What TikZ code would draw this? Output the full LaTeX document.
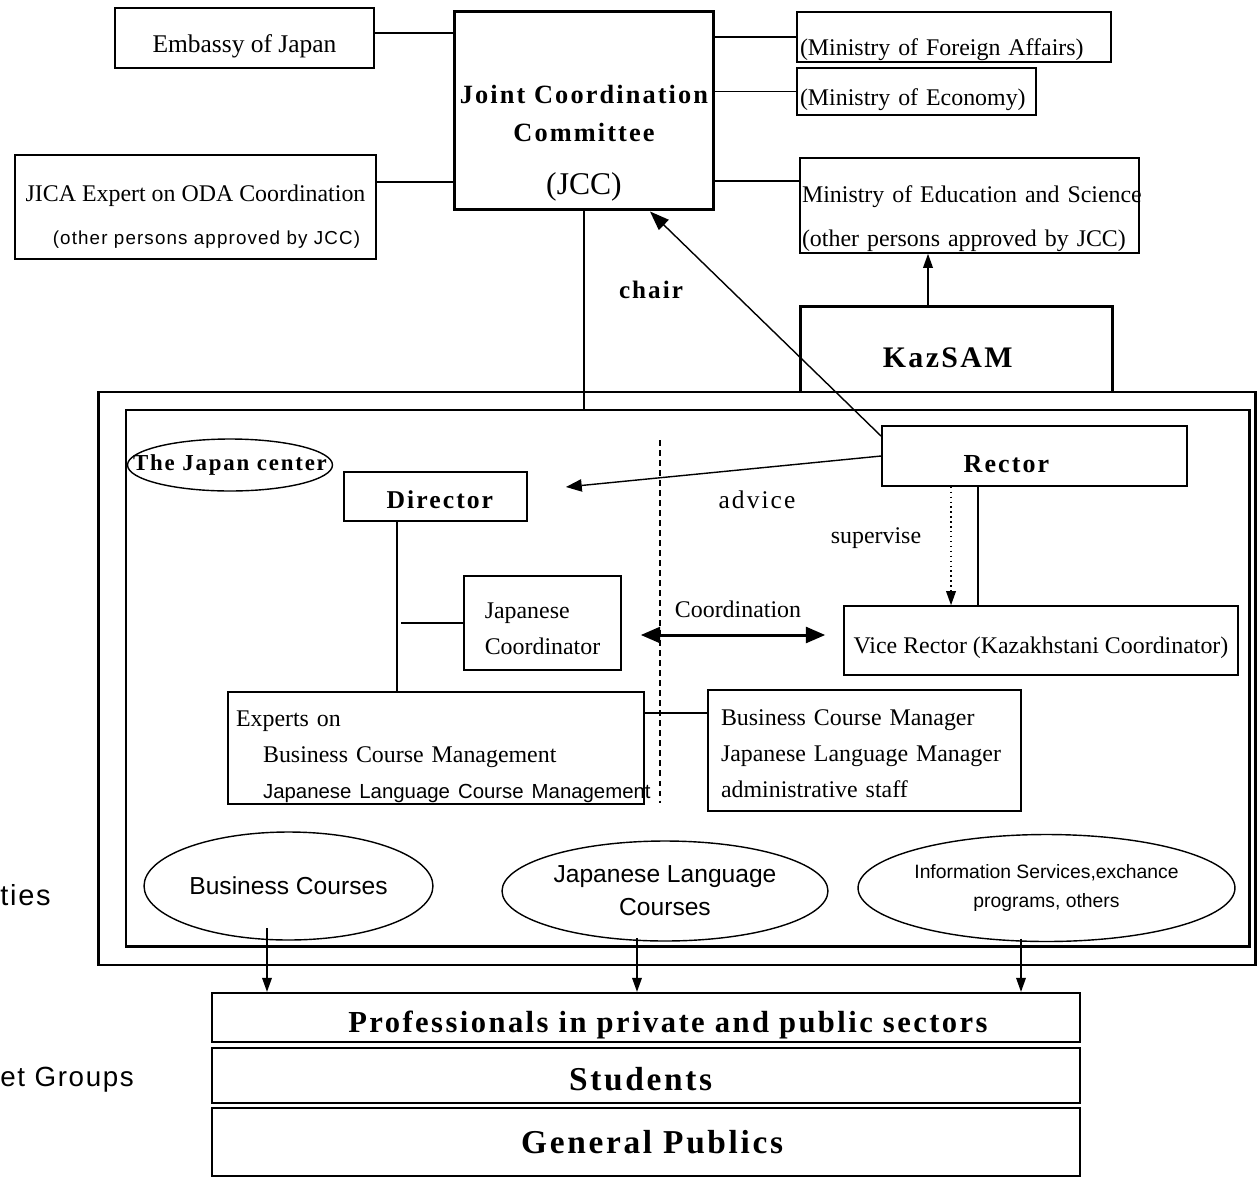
\documentclass[tikz,border=0pt]{standalone}
\usepackage{fontspec}
\setmainfont{Liberation Serif}
\setsansfont{Liberation Sans}
\newfontfamily\wideserif[LetterSpace=8]{Liberation Serif}
\newfontfamily\widesans[LetterSpace=6]{Liberation Sans}
\usepackage{tikz}
\usetikzlibrary{arrows.meta,shapes.geometric}
\newcommand{\bodyfont}{\fontsize{13.6}{20.5}\selectfont}
\tikzset{o-box/.style={rectangle, draw=black, line width=0.9pt, inner sep=0pt, font=\bodyfont},
o-box2/.style={o-box, line width=1.7pt},
o-oval/.style={ellipse, draw=black, line width=0.8pt, inner sep=0pt},
c-frame/.style={rectangle, draw=black, inner sep=0pt, outer sep=0pt},
link/.style={line width=0.8pt},
link2/.style={line width=1.3pt},
arrow/.style={line width=0.8pt,-{Triangle[length=8pt,width=5.5pt]}},
divider/.style={line width=0.8pt, dash pattern=on 3.4pt off 2.3pt}}

\begin{document}
\begin{tikzpicture}[x=0.02cm, y=-0.02cm]
\useasboundingbox (0,0) rectangle (1258,1177);
\node (activities) [c-frame, line width=1.6pt, minimum width=23.16cm, minimum height=11.46cm] at (677,678.5) {};
\node (jcframe) [c-frame, line width=0.8pt, minimum width=22.48cm, minimum height=10.74cm] at (688,678.5) {};
\draw [line width=1.7pt] (jcframe.north east) -- (jcframe.south east) -- (jcframe.south west);
\node (emb) [o-box, minimum width=5.18cm, minimum height=1.2cm, text height=19pt, text depth=3pt, font=\fontsize{14.5}{17}\selectfont] at (244.5,38) {Embassy of Japan};
\node (jcc) [o-box2, minimum width=5.2cm, minimum height=3.98cm, align=center, font=\wideserif\bfseries\fontsize{15}{21.6}\selectfont] at (584,110.5) {\rule{0pt}{48pt}Joint Coordination\\Committee\\[8.4pt]{\rmfamily\mdseries\fontsize{18}{21.6}\selectfont(JCC)}};
\node (jica) [o-box, minimum width=7.22cm, minimum height=2.08cm, align=center] at (195.5,207) {\rule{0pt}{20.3pt}JICA Expert on ODA Coordination\\[4pt]\hspace*{12.5pt}{\widesans\fontsize{10.7}{12}\selectfont(other persons approved by JCC)}};
\node (mfa) [o-box, minimum width=6.28cm, minimum height=1.0cm, text width=6.16cm, align=left, text height=24.4pt, text depth=3pt] at (954,37) {\mbox{(Ministry of Foreign Affairs)}};
\node (me) [o-box, minimum width=4.78cm, minimum height=0.94cm, text width=4.66cm, align=left, text height=19.4pt, text depth=3pt] at (916.5,91.5) {\mbox{(Ministry of Economy)}};
\node (mes) [o-box, minimum width=6.78cm, minimum height=1.9cm, text width=6.7cm, align=left] at (969.5,205.5) {\rule{0pt}{25pt}\mbox{Ministry of Education and Science}\\[4.5pt]\mbox{(other persons approved by JCC)}};
\node (kaz) [o-box2, minimum width=6.26cm, minimum height=1.72cm, text height=21.6pt, text depth=0pt, font=\wideserif\bfseries\fontsize{17}{20}\selectfont] at (956.5,349) {KazSAM\hspace*{10pt}};
\draw [link] ([yshift=0.1cm]emb.east) -- ([yshift=0.1cm]emb.east -| jcc.west);
\draw [link] ([yshift=0.5cm]jica.east) -- ([yshift=0.5cm]jica.east -| jcc.west);
\draw [link] (mfa.west -| jcc.east) -- (mfa.west);
\draw [link] (me.west -| jcc.east) -- (me.west);
\draw [link] ([yshift=0.49cm]mes.west -| jcc.east) -- ([yshift=0.49cm]mes.west);
\draw [arrow] ([xshift=-0.57cm]kaz.north) -- ([xshift=-0.57cm]kaz.north |- mes.south);
\draw [link] (jcc.south) -- (jcc.south |- jcframe.north);
\node (chair) [font=\wideserif\bfseries\fontsize{14.3}{17}\selectfont] at (651,290) {chair};
\node (jpc) [o-oval, inner xsep=-0.5cm, minimum width=4.1cm, minimum height=1.04cm, font=\wideserif\bfseries\fontsize{13}{15}\selectfont] at (230,465) {The Japan center};
\node (director) [o-box, line width=1.1pt, minimum width=3.66cm, minimum height=0.98cm, text height=13.4pt, text depth=0pt, font=\wideserif\bfseries\fontsize{14.6}{17}\selectfont] at (435.5,496.5) {\hspace*{5pt}Director};
\node (rector) [o-box, minimum width=6.1cm, minimum height=1.2cm, text height=19.3pt, text depth=0pt, font=\wideserif\bfseries\fontsize{14.8}{17}\selectfont] at (1034.5,456) {Rector\hspace*{32pt}};
\node (vice) [o-box, minimum width=7.88cm, minimum height=1.38cm, text height=18.2pt, text depth=3pt] at (1041,640.5) {Vice Rector (Kazakhstani Coordinator)};
\node (jc) [o-box, minimum width=3.14cm, minimum height=1.88cm, align=left] at (542.5,623) {\rule{0pt}{15pt}Japanese\\Coordinator};
\node (experts) [o-box, minimum width=8.32cm, minimum height=2.24cm, text width=8.0cm, align=left] at (436,748) {\rule{0pt}{18.5pt}Experts on\\\hspace*{15.4pt}Business Course Management\\\hspace*{15.4pt}\mbox{\sffamily\fontsize{11.6}{14}\selectfont Japanese Language Course Management}};
\node (bcm) [o-box, minimum width=6.26cm, minimum height=2.42cm, text width=5.74cm, align=left] at (864.5,750.5) {\rule{0pt}{12.8pt}Business Course Manager\\Japanese Language Manager\\administrative staff};
\node (advice) [font=\wideserif\fontsize{14.5}{17}\selectfont] at (757,500) {advice};
\node (supervise) [font=\bodyfont] at (876,538) {supervise};
\node (coord) [font=\bodyfont] at (738,609) {Coordination};
\draw [arrow, -{Triangle[length=11pt,width=8pt]}] ([yshift=-0.22cm]rector.north west) -- ([xshift=1.32cm]jcc.south);
\draw [arrow, -{Triangle[length=9pt,width=7pt]}] (rector.west) -- ([xshift=0.76cm,yshift=0.19cm]director.east);
\draw [arrow, dotted] ([xshift=-1.67cm]rector.south) -- ([xshift=-1.67cm]rector.south |- vice.north);
\draw [link2] ([xshift=-1.13cm]rector.south) -- ([xshift=-1.13cm]rector.south |- vice.north);
\draw [link2] ([xshift=-0.77cm]director.south) -- ([xshift=-0.77cm]director.south |- experts.north);
\draw [link2] (jc.west) -- ([xshift=-1.24cm]jc.west);
\draw [line width=1.7pt, {Triangle[length=11pt,width=9pt]}-{Triangle[length=11pt,width=9pt]}] ([xshift=0.38cm,yshift=-0.24cm]jc.east) -- ([xshift=-0.36cm,yshift=-0.24cm]jc.east -| vice.west);
\draw [link2] ([yshift=0.7cm]experts.east) -- ([yshift=0.7cm]experts.east -| bcm.west);
\draw [divider] (660,440) -- (660,803);
\node (bc) [o-oval, minimum width=5.78cm, minimum height=2.16cm, font=\sffamily\fontsize{14}{17}\selectfont] at (288.5,886) {Business Courses};
\node (jlc) [o-oval, minimum width=6.52cm, minimum height=2.0cm, align=center, font=\sffamily\fontsize{14}{18.8}\selectfont] at (665,891) {Japanese Language\\Courses};
\node (info) [o-oval, minimum width=7.54cm, minimum height=2.14cm, align=center, font=\sffamily\fontsize{11}{16.5}\selectfont] at (1046.5,888) {Information Services,exchance\\programs, others};
\node (prof) [o-box, line width=1.3pt, minimum width=17.36cm, minimum height=0.98cm, text height=17.6pt, text depth=0pt, font=\wideserif\bfseries\fontsize{17.4}{20}\selectfont] at (646,1017.5) {\hspace*{25pt}Professionals in private and public sectors};
\node (stud) [o-box, line width=1.3pt, minimum width=17.36cm, minimum height=1.1cm, text height=16.5pt, text depth=0pt, font=\wideserif\bfseries\fontsize{19}{22}\selectfont] at (646,1075.5) {Students\hspace*{6pt}};
\node (gen) [o-box, line width=1.3pt, minimum width=17.36cm, minimum height=1.36cm, text height=13pt, text depth=0pt, font=\wideserif\bfseries\fontsize{19}{22}\selectfont] at (646,1142) {\hspace*{7pt}General Publics};
\draw [arrow] ([xshift=-0.43cm,yshift=-0.84cm]bc.center) -- ([xshift=-0.43cm]bc.center |- prof.north);
\draw [arrow] ([xshift=-0.56cm,yshift=-0.94cm]jlc.center) -- ([xshift=-0.56cm]jlc.center |- prof.north);
\draw [arrow] ([xshift=-0.51cm,yshift=-1.01cm]info.center) -- ([xshift=-0.51cm]info.center |- prof.north);
\node (activ) [anchor=west, inner sep=0pt, font=\widesans\fontsize{16.5}{19}\selectfont] at (0,895) {ties};
\node (target) [anchor=west, inner sep=0pt, font=\widesans\fontsize{15.8}{19}\selectfont] at (0,1080) {et Groups};
\end{tikzpicture}
\end{document}
